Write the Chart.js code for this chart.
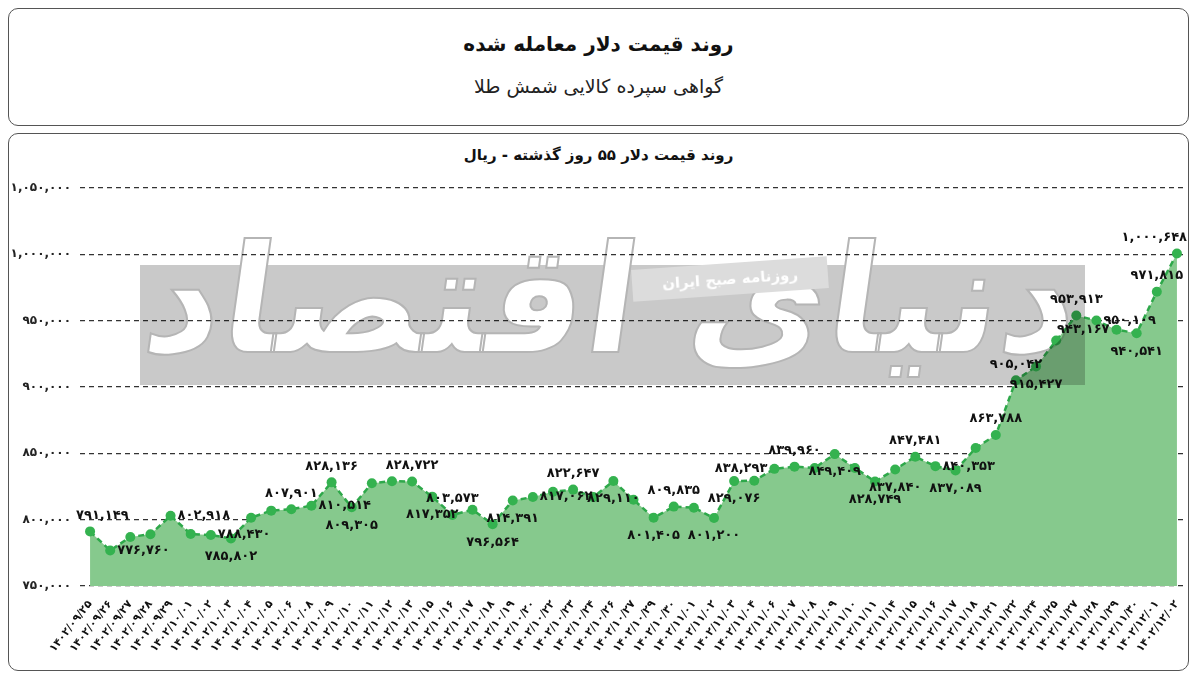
<!DOCTYPE html>
<html>
<head>
<meta charset="utf-8">
<script src="https://cdn.jsdelivr.net/npm/chart.js@4"></script>
<style>
  body { margin: 0; background: #fff; font-family: "DejaVu Sans", sans-serif; }
  .box { position: absolute; left: 8px; width: 1181px; border: 1.5px solid #555; border-radius: 10px; box-sizing: border-box; }
  #head { top: 8px; height: 118px; }
  #main { top: 133px; height: 538px; }
  .t1 { position: absolute; top: 23px; width: 100%; text-align: center; font-weight: bold; font-size: 20px; color: #111; }
  .t2 { position: absolute; top: 66px; width: 100%; text-align: center; font-size: 19px; color: #222; }
  .t3 { position: absolute; top: 146px; left: 8px; width: 1181px; text-align: center; font-weight: bold; font-size: 15px; color: #111; }
  #wrap { position: absolute; left: 8px; top: 140px; width: 1184px; height: 525px; }
  #wm { position: absolute; left: 140px; top: 265px; width: 945px; height: 120px; mix-blend-mode: multiply; pointer-events: none; }
  #wm .rect { position: absolute; inset: 0; background: #c9c9c9; }
  #wm .big { position: absolute; left: 0; top: -40px; width: 100%; text-align: center; font-size: 150px; font-weight: bold;
             color: #fff; -webkit-text-stroke: 2px #b5b5b5; transform: skewX(-8deg); line-height: 1; }
  #wm .small { position: absolute; left: 492px; top: -2px; width: 196px; height: 32px; background: #dcdcdc; color: #fff;
               font-size: 15px; font-weight: bold; text-align: center; line-height: 32px; transform: rotate(-4deg); }
</style>
</head>
<body>
<div class="box" id="head">
  <div class="t1" dir="rtl">روند قیمت دلار معامله شده</div>
  <div class="t2" dir="rtl">گواهی سپرده کالایی شمش طلا</div>
</div>
<div class="box" id="main"></div>
<div class="t3" dir="rtl">روند قیمت دلار ۵۵ روز گذشته - ریال</div>
<div id="wrap"><canvas id="myChart"></canvas></div>
<div id="wm">
  <div class="rect"></div>
  <div class="big" dir="rtl">دنیای اقتصاد</div>
  <div class="small" dir="rtl">روزنامه صبح ایران</div>
</div>
<script>
// dates (shamsi) and prices in rial
var dates = [
  "1402/09/25", "1402/09/26", "1402/09/27", "1402/09/28", "1402/09/29",
  "1402/10/01", "1402/10/02", "1402/10/03", "1402/10/04", "1402/10/05",
  "1402/10/06", "1402/10/08", "1402/10/09", "1402/10/10", "1402/10/11",
  "1402/10/12", "1402/10/13", "1402/10/15", "1402/10/16", "1402/10/17",
  "1402/10/18", "1402/10/19", "1402/10/20", "1402/10/22", "1402/10/23",
  "1402/10/24", "1402/10/26", "1402/10/27", "1402/10/29", "1402/10/30",
  "1402/11/01", "1402/11/02", "1402/11/03", "1402/11/04", "1402/11/06",
  "1402/11/07", "1402/11/08", "1402/11/09", "1402/11/10", "1402/11/11",
  "1402/11/14", "1402/11/15", "1402/11/16", "1402/11/17", "1402/11/18",
  "1402/11/21", "1402/11/22", "1402/11/24", "1402/11/25", "1402/11/27",
  "1402/11/28", "1402/11/29", "1402/11/30", "1402/12/01", "1402/12/02"
];
var prices = [
  791149, 776760, 787000, 789000, 802918,
  789200, 788430, 785802, 801500, 806800,
  807901, 810514, 828136, 809305, 827500,
  829000, 828722, 817352, 803573, 807500,
  796564, 814391, 817062, 821000, 822647,
  817000, 829110, 815000, 801405, 809835,
  809000, 801200, 829076, 829400, 838293,
  839960, 839000, 849409, 839000, 828749,
  837840, 847481, 840353, 837089, 854000,
  863788, 905042, 915427, 935000, 953913,
  950109, 943167, 940541, 971815, 1000648
];
var yTicks = [750000, 800000, 850000, 900000, 950000, 1000000, 1050000];

// which points carry a value label, and on which side
var labelIdx  = [0, 1, 4, 6, 7, 10, 11, 12, 13, 16, 17, 18, 20, 21, 22, 24, 26, 28, 29, 31, 32, 34, 35, 37, 39, 40, 41, 42, 43, 45, 46, 47, 49, 50, 51, 52, 53, 54];
var labelSide = ["tr","r","r","r","b","t","r","t","b","t","b","t","b","b","r","t","b","b","t","b","b","l","t","b","b","b","t","r","b","t","t","b","t","r","l","b","t","tl"];

function fa(s) {
    return String(s).replace(/[0-9]/g, function(d){ return "۰۱۲۳۴۵۶۷۸۹"[d]; });
}
function money(v) {
    return fa(v.toString().replace(/\B(?=(\d{3})+(?!\d))/g, ","));
}

var FONT = "DejaVu Sans";

var valueLabels = {
    id: 'valueLabels',
    afterDatasetsDraw: function(chart) {
        var ctx = chart.ctx;
        var pts = chart.getDatasetMeta(0).data;
        ctx.save();
        ctx.font = "bold 13px '" + FONT + "'";
        ctx.fillStyle = "#111";
        ctx.textAlign = "center";
        ctx.textBaseline = "middle";
        labelIdx.forEach(function(i, k) {
            var txt = money(prices[i]);
            var w = ctx.measureText(txt).width;
            var side = labelSide[k];
            var x = pts[i].x, y = pts[i].y;
            var dx = 0, dy = 0;
            if (side.indexOf("t") >= 0) dy = -16;
            if (side.indexOf("b") >= 0) dy = 18;
            var h = (side.length > 1) ? w / 2 - 14 : w / 2 + 7;
            if (side.indexOf("r") >= 0) dx = h;
            if (side.indexOf("l") >= 0) dx = -h;
            var cx = Math.min(x + dx, chart.chartArea.right - w / 2);
            ctx.fillText(txt, cx, y + dy);
        });
        ctx.restore();
    }
};

var ctx = document.getElementById("myChart").getContext("2d");
var myChart = new Chart(ctx, {
    type: 'line',
    data: {
        labels: dates.map(fa),
        datasets: [{
            data: prices,
            fill: 'start',
            backgroundColor: 'rgb(134, 201, 141)',
            borderColor: '#2ea84a',
            borderWidth: 2.5,
            borderDash: [6, 4],
            pointRadius: 5,
            pointBackgroundColor: '#34b24f',
            pointBorderColor: '#34b24f',
            pointBorderWidth: 0,
            tension: 0
        }]
    },
    options: {
        responsive: true,
        maintainAspectRatio: false,
        animation: false,
        layout: { padding: { top: 48, right: 0, left: 0, bottom: 0 } },
        plugins: {
            legend: { display: false },
            tooltip: { enabled: false }
        },
        scales: {
            x: {
                offset: true,
                grid: { display: false },
                border: { display: false },
                ticks: {
                    autoSkip: false,
                    maxRotation: 52,
                    minRotation: 52,
                    color: '#111',
                    padding: 4,
                    font: { family: FONT, size: 11, weight: 'bold' }
                },
                afterFit: function(s) { s.height = 79; }
            },
            y: {
                min: 750000,
                max: 1050000,
                afterBuildTicks: function(s) { s.ticks = yTicks.map(function(v){ return { value: v }; }); },
                grid: { color: '#333', lineWidth: 1.3, drawTicks: false },
                border: { display: false, dash: [5, 4] },
                ticks: {
                    padding: 9,
                    color: '#222',
                    font: { family: FONT, size: 12, weight: 'bold' },
                    callback: function(v) { return money(v); }
                },
                afterFit: function(s) { s.width = 72; }
            }
        }
    },
    plugins: [valueLabels]
});
</script>
</body>
</html>
